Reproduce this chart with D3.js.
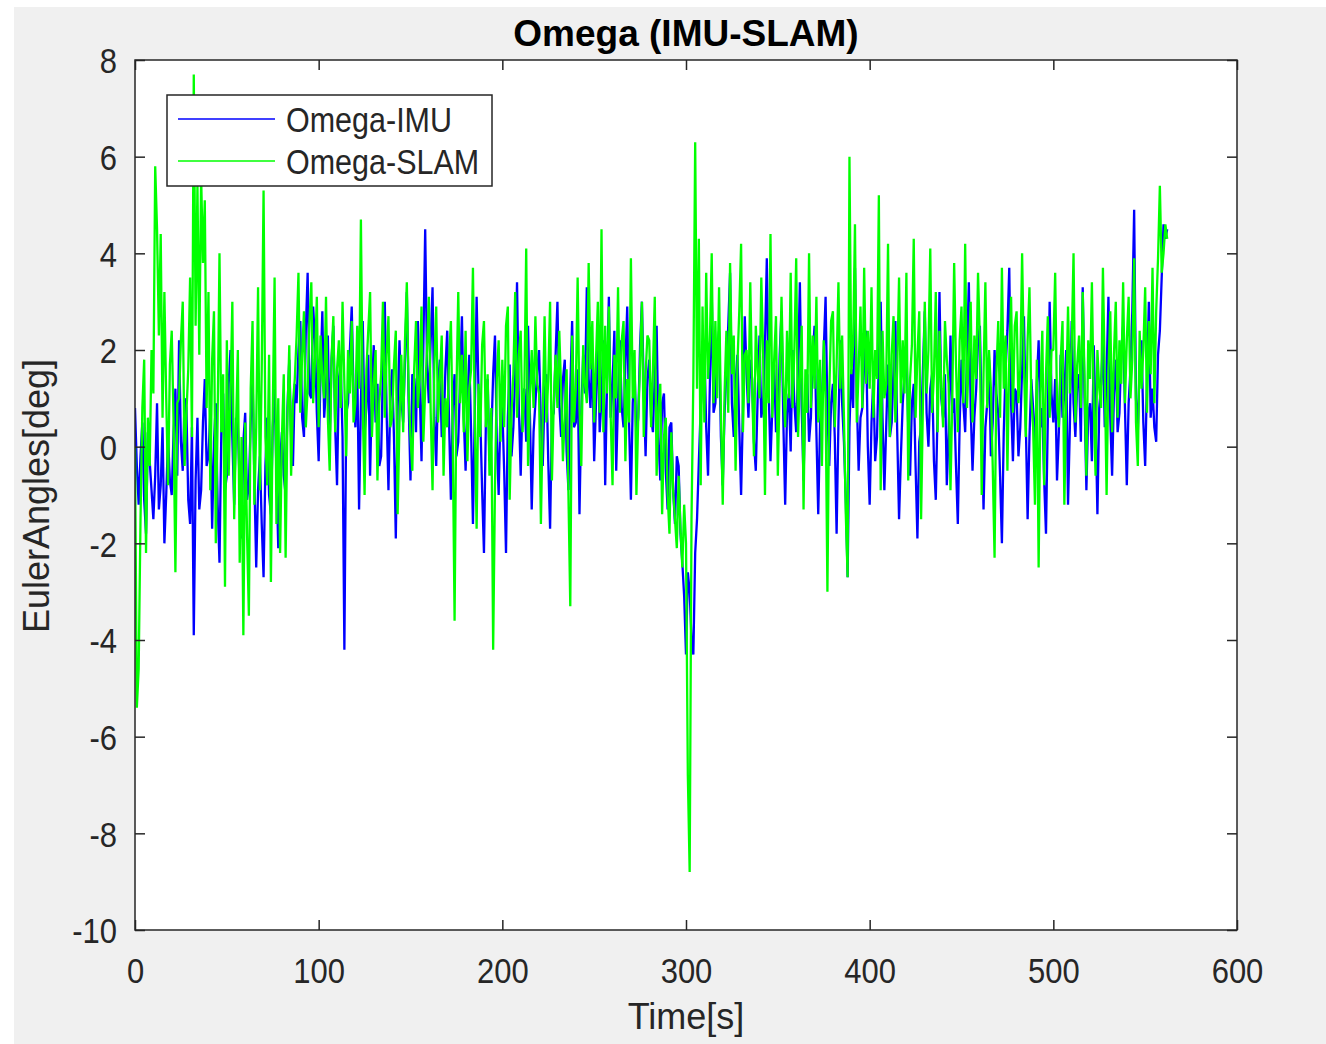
<!DOCTYPE html>
<html>
<head>
<meta charset="utf-8">
<script src="https://cdn.jsdelivr.net/npm/d3@7"></script>
<style>
  html, body { margin: 0; padding: 0; background: #fff; }
  svg { display: block; }
  text { font-family: "Liberation Sans", Arial, Helvetica, sans-serif; fill: #262626; }
</style>
</head>
<body>
<svg id="chart" width="1326" height="1044"></svg>
<script>
// ---------------- data ----------------
const timeStep = 1;           // seconds between samples
const xTicks = [0, 100, 200, 300, 400, 500, 600];
const yTicks = [-10, -8, -6, -4, -2, 0, 2, 4, 6, 8];
const seriesNames = ["Omega-IMU", "Omega-SLAM"];

const omegaIMU = [
  0.8, -0.4, -1.2, -0.2, 0.5, -1.1, -1.8, 0.3, -0.3, -0.9, -1.5, -0.6, 0.9, -1.3, -0.8, 0.4, -2.0, -1.0, 0.2, -0.7,
  -1.0, 0.3, 1.2, -0.6, 2.2, 0.1, -0.5, 1.0, 0.8, -1.1, -1.6, 0.4, -3.9, -0.7, 0.6, -1.3, -0.9, 0.5, 1.4, -0.4,
  -0.2, 0.7, -1.7, 0.1, 0.9, -1.2, -2.4, 0.3, 1.1, -0.9, -0.6, 1.3, 2.0, 0.2, -1.2, 0.6, 0.4, -0.8, -1.9, 0.1,
  0.7, -1.1, -0.8, 0.5, 1.5, -0.7, -2.5, -0.9, -0.2, -1.6, -2.7, -0.4, 0.6, -1.0, -1.4, 0.4, 1.2, -0.5, -2.1, -0.3,
  0.3, -0.6, -1.0, 0.8, 1.8, 0.2, -0.4, 1.3, 0.9, 2.0, 2.6, 0.6, 0.2, 2.4, 3.6, 1.1, 1.0, 2.9, 2.2, 0.7,
  -0.3, 1.5, 2.8, 0.6, 1.2, 2.3, 0.1, 1.8, 2.5, 0.4, -0.8, 1.4, 1.7, 0.2, -4.2, 0.7, 0.9, 2.0, 2.9, 1.1,
  0.4, 1.7, -1.3, 0.9, 2.6, 0.3, 0.8, 1.9, -0.6, 1.2, 2.1, 0.5, 1.3, -0.4, -0.2, 1.6, 3.0, 0.7, -0.9, 1.0,
  1.6, 0.2, -1.9, 0.8, 2.2, 1.0, 0.5, 1.8, 3.2, 0.9, -0.7, 1.5, 1.4, 0.3, 2.6, 1.2, -0.3, 2.1, 4.5, 1.7,
  0.9, 2.2, 3.3, 0.6, -0.4, 1.3, 1.8, 0.2, 0.3, 1.6, 2.4, 0.5, -1.1, 0.8, 1.5, -0.2, 0.1, 1.4, 2.7, 0.6,
  -0.5, 0.9, 1.9, 0.3, -1.6, 0.7, 3.1, 1.2, 0.6, -0.9, -2.2, 0.4, 1.4, -0.3, 0.2, 1.5, 2.3, 0.1, -1.0, 0.8,
  0.8, -0.5, -2.2, 0.6, 1.7, -0.2, 0.4, 1.5, 3.4, 0.8, -0.6, 1.0, 1.2, 0.1, 2.5, 0.7, -1.3, 0.3, 0.9, 1.6,
  2.0, 0.5, -0.4, 1.1, 1.5, -0.3, -1.7, 0.6, 0.7, 1.9, 3.0, 0.9, 0.2, 1.4, 1.8, -0.1, -0.9, 1.2, 2.6, 0.4,
  0.5, 1.6, -1.4, 0.7, 1.9, 1.1, 3.3, 1.4, 0.8, 2.0, -0.3, 0.9, 2.4, 0.3, 1.0, 2.2, -0.8, 1.3, 3.1, 0.6,
  1.3, 2.4, -0.5, 1.0, 2.2, 0.8, 0.4, 1.7, 2.9, 0.5, -1.1, 0.9, 1.6, 0.2, 0.6, 2.1, 3.0, 1.2, -0.2, 1.4,
  1.8, 0.6, 0.3, 1.5, 2.5, 0.2, -0.7, 0.9, 1.1, -0.5, -1.3, 0.4, 0.5, -0.9, -1.6, -0.2, -0.4, -1.8, -2.4, -3.1,
  -4.3, -2.6, -3.0, -4.0, -4.3, -2.2, -1.5, -0.3, 0.8, 1.5, 2.1, 0.4, -0.6, 1.3, 3.2, 0.7, 0.9, 2.0, 2.4, 0.2,
  -0.8, 0.7, 1.6, 2.5, 3.6, 0.9, 0.2, 1.3, 1.9, 0.4, -1.0, 0.8, 2.7, 1.5, 0.6, 1.8, 1.4, 0.1, -0.5, 1.0,
  2.3, 0.6, 0.9, 2.1, 3.9, 1.2, -0.3, 0.8, 1.7, 0.3, 0.4, 1.9, 2.8, 0.5, -1.2, 0.7, 1.1, -0.1, 2.0, 0.9,
  0.3, 1.6, 3.4, 0.8, -0.7, 1.2, 1.5, 0.1, 0.6, 1.9, 2.5, 0.3, -1.4, 0.5, 1.0, 2.0, 3.1, 0.7, -0.4, 0.9,
  1.3, 0.2, -1.8, 0.5, 2.2, 0.9, 0.1, -1.1, -2.7, 0.4, 1.6, 0.8, 3.7, 1.0, -0.5, 0.6, 0.8, 1.7, 2.4, 0.0,
  -1.2, 0.5, 1.4, -0.3, 0.2, 1.8, 3.0, 0.6, -0.9, 0.4, 1.7, 0.2, 0.5, 1.6, 2.6, 0.3, -1.5, -0.2, 0.9, 1.5,
  2.1, 0.4, -0.6, 0.9, 1.3, -0.4, -1.9, 0.1, 0.4, 1.6, 2.8, 0.7, 0.0, 1.2, 1.5, -0.3, -1.1, 0.8, 3.2, 1.0,
  0.6, 1.5, -0.8, 0.3, 2.3, 0.7, 1.0, -0.4, -1.6, 0.5, 1.8, 0.9, 0.3, 1.9, 3.4, 0.8, -0.5, 0.6, 1.2, 2.2,
  2.5, 0.6, -1.3, 0.4, 0.9, 1.8, -0.2, 0.5, 2.0, 1.1, 0.7, -0.6, -2.0, 0.3, 1.6, 2.4, 3.7, 0.9, -0.3, 1.2,
  1.1, -0.2, 0.4, 1.6, 2.7, 0.5, -1.5, 0.2, 1.4, 0.8, -0.1, 1.3, 2.2, 0.4, 0.8, -0.7, -1.8, 0.6, 3.0, 1.1,
  0.5, 1.4, -0.7, 0.3, 1.9, 0.6, 1.1, 2.0, -1.2, 0.4, 2.6, 0.9, 0.2, 1.3, 1.5, 0.1, 3.3, 1.0, -0.9, 0.7,
  0.9, -0.3, 2.1, 0.6, -1.4, 0.8, 1.3, 2.2, 0.4, 1.5, 3.1, 0.6, -0.6, 1.1, 1.8, 0.3, 0.7, 2.0, 2.5, 0.8,
  -0.8, 0.9, 1.6, 2.8, 4.9, 1.0, 0.3, 1.7, 2.2, 0.5, -0.4, 1.4, 3.0, 0.6, 1.2, 0.4, 0.1, 1.9, 2.4, 3.5,
  4.6, 4.3, 4.5
];

const omegaSLAM = [
  0.0, -5.4, -4.6, -1.5, 0.8, 1.8, -2.2, 0.6, -0.4, 2.0, 1.1, 5.8, 4.5, 2.3, 4.4, 0.6, 3.2, 1.0, -0.8, 1.7,
  2.4, 0.5, -2.6, 0.9, 1.0, 2.2, 3.0, -0.4, 0.7, 1.6, 3.5, 0.2, 7.7, 2.5, 5.4, 1.9, 5.6, 3.8, 5.1, 0.8,
  3.2, -0.9, 1.8, 2.8, -2.0, 0.6, 4.0, 0.3, 1.5, -2.9, 2.2, -0.6, 1.1, 3.0, -1.5, 0.4, 2.0, -2.4, 0.2, -3.9,
  0.5, -1.8, -3.5, 1.2, 2.6, -1.2, 0.4, 3.3, -0.9, 1.6, 5.3, 0.2, -0.8, 1.9, -2.8, 0.7, 3.5, -1.6, 1.0, -2.2,
  0.2, 1.5, -2.3, 0.6, 2.1, -0.6, 0.9, 1.4, 2.3, 3.6, 0.7, 1.9, 2.8, 0.4, 1.2, 2.6, 3.4, 0.9, 1.8, 3.1,
  0.4, 2.3, 1.4, 1.0, 3.1, 0.6, -0.5, 1.8, 2.7, 0.3, 1.6, 2.2, 0.8, 3.0, 1.3, -0.2, 2.0, 1.1, 2.6, 0.5,
  0.9, 2.5, 1.2, 4.7, 0.8, -1.0, 1.6, 2.4, 3.2, 0.2, 1.3, 2.0, -0.7, 0.9, 1.5, 3.0, 0.6, 1.9, 2.7, 0.4,
  0.6, 1.7, 2.4, -1.4, 0.5, 1.9, 0.3, 2.2, 3.4, 1.1, 0.2, -0.5, 1.6, 2.6, 0.8, 1.4, 2.9, 0.1, 1.2, 2.0,
  3.1, 0.7, -0.9, 1.7, 2.9, 0.5, 1.4, 2.3, -0.6, 1.0, 0.4, 1.8, 2.6, 0.2, -3.6, 1.1, 3.2, 0.9, 1.9, 0.3,
  2.4, -0.3, 1.2, 1.6, 3.7, 0.6, -1.7, 1.3, 0.2, 2.1, 2.6, 0.4, 1.5, -0.6, 0.8, -4.2, -0.8, 1.4, 2.2, 0.1,
  1.8, 0.4, 2.5, 2.9, -1.1, 0.7, 1.5, 3.2, 0.6, 1.9, 2.4, 0.3, 1.2, 4.1, -0.4, 1.0, 2.0, 0.8, 2.7, 1.3,
  1.1, -1.6, 0.6, 2.7, 0.5, 1.4, 3.0, -0.7, 0.9, 1.9, 0.8, 2.4, 1.2, -0.3, 0.7, 1.6, -1.0, -3.3, 2.3, 0.5,
  1.2, 3.5, 0.8, -0.4, 2.1, 1.3, 0.9, 3.8, 1.6, 2.6, 0.5, 1.8, 3.0, 0.7, 4.5, 0.3, 2.5, 1.1, 2.9, 0.6,
  -0.8, 1.9, 1.0, 3.3, 0.7, 2.2, 2.6, -0.3, 1.4, 0.5, 3.9, 1.0, 2.0, -1.0, 0.6, 1.7, 3.0, 0.2, 1.5, 2.3,
  2.2, 0.4, 1.6, 3.1, -0.6, 0.8, 1.3, -1.4, 0.2, 0.6, -1.0, -1.8, 0.3, -0.9, -1.5, -2.1, -0.6, -1.7, -2.5, -1.2,
  -2.0, -6.8, -8.8, -1.5, 1.4, 6.3, 1.2, 4.3, -0.8, 2.9, 0.5, 3.6, 1.4, 2.2, 4.0, 0.9, 2.6, 1.0, 3.3, 0.7,
  -1.2, 1.1, 2.4, 0.7, 3.8, 1.5, 2.3, -0.5, 1.7, 2.8, 4.2, 0.3, 1.9, 2.0, 0.9, 3.4, 1.2, -0.2, 2.5, 1.6,
  1.0, 3.5, 1.9, -1.0, 2.2, 0.9, 4.4, 0.6, 1.8, 2.7, -0.6, 1.3, 3.1, 1.3, 0.4, 2.4, 1.0, 3.6, 0.8, 2.0,
  3.9, 0.2, 1.4, 2.5, -1.3, 1.6, 0.7, 4.0, 0.8, 2.3, 1.2, 3.1, 0.5, 1.8, -0.4, 2.2, 1.0, -3.0, 1.1, 2.6,
  2.8, 0.4, 1.7, 3.4, 1.2, 2.3, 0.6, -1.4, -2.7, 6.0, 1.5, 2.1, 4.6, 0.5, 1.6, 2.9, 0.8, 3.7, 1.3, 2.4,
  1.2, 3.3, 0.6, 2.0, 1.4, 5.2, -0.9, 2.4, 1.0, 1.3, 4.2, 0.2, 1.9, 2.7, 0.5, 1.6, 3.5, 0.9, 2.2, 1.1,
  3.6, -0.7, 1.4, 2.1, 4.3, 0.6, 1.9, 2.8, -1.5, 0.9, 3.0, 1.1, 2.0, 4.1, 0.7, 1.5, 3.2, 0.3, 2.4, 1.2,
  0.4, 2.6, 1.8, 1.3, -0.9, 1.0, 3.8, 1.7, 0.3, 2.2, 2.9, 0.9, 4.2, 0.8, 1.9, 3.0, 0.5, 2.3, 1.4, 3.6,
  2.2, -1.0, 1.5, 3.4, 0.8, 2.0, 1.2, -0.4, -2.3, 1.5, 2.6, 0.6, 3.7, 1.2, 2.3, -0.5, 1.8, 3.1, 0.7, 2.5,
  2.8, 0.9, 1.6, 4.0, 1.7, 0.2, 2.2, 3.3, 1.0, 0.4, -1.2, 1.8, -2.5, 1.1, 2.4, -0.8, 1.5, 2.7, 0.6, 2.0,
  2.0, 3.6, 0.9, 0.4, 1.8, 2.6, -1.2, 1.0, 2.9, 1.1, 2.1, 4.0, 0.5, 1.7, 2.3, 0.8, 3.2, 1.4, -0.6, 2.2,
  1.4, 3.4, 0.9, -0.6, 2.0, 1.2, 0.8, 3.7, 1.5, -1.0, 1.6, 2.8, 0.3, 1.9, 3.0, 0.6, 2.2, 1.3, 3.4, 0.9,
  2.2, 3.1, 1.0, 1.8, 3.9, 0.5, -0.4, 2.4, 1.2, 2.0, 3.3, 0.7, 2.6, 1.5, 3.7, 0.9, 2.8, 3.9, 5.4, 3.6,
  4.0, 4.6, 4.3
];

// ---------------- layout ----------------
const W = 1326, H = 1044;
const plot = { left: 135, right: 1237, top: 60, bottom: 930 };
const axisColor = "#262626";
const textStretch = 1.15;
const fontFamily = '"Liberation Sans", Arial, Helvetica, sans-serif';
const lineWidth = 2.3;

const svg = d3.select("#chart");

svg.append("rect").attr("x", 14).attr("y", 7).attr("width", W - 14).attr("height", H - 7)
  .attr("fill", "#f0f0f0");

svg.append("rect")
  .attr("x", plot.left).attr("y", plot.top)
  .attr("width", plot.right - plot.left).attr("height", plot.bottom - plot.top)
  .attr("fill", "#ffffff");

const x = d3.scaleLinear().domain([0, 600]).range([plot.left, plot.right]);
const y = d3.scaleLinear().domain([-10, 8]).range([plot.bottom, plot.top]);

svg.append("clipPath").attr("id", "clip").append("rect")
  .attr("x", plot.left).attr("y", plot.top)
  .attr("width", plot.right - plot.left).attr("height", plot.bottom - plot.top);

const line = d3.line()
  .x((d, i) => x(i * timeStep))
  .y(d => y(d));

const g = svg.append("g").attr("clip-path", "url(#clip)");
g.append("path").datum(omegaIMU)
  .attr("d", line).attr("fill", "none")
  .attr("stroke", "#0000ff").attr("stroke-width", lineWidth).attr("stroke-linejoin", "bevel");
g.append("path").datum(omegaSLAM)
  .attr("d", line).attr("fill", "none")
  .attr("stroke", "#00ff00").attr("stroke-width", lineWidth).attr("stroke-linejoin", "bevel");

// axes
const tickLen = 10;
const fmt = d => String(d);   // plain hyphen-minus like MATLAB
function styleAxis(sel) {
  sel.select(".domain").remove();
  sel.selectAll(".tick line").attr("stroke", axisColor).attr("stroke-width", 1.5);
}

const xAxisB = svg.append("g").attr("transform", `translate(0,${plot.bottom})`)
  .call(d3.axisBottom(x).tickValues(xTicks).tickSize(-tickLen).tickFormat(fmt));
styleAxis(xAxisB);
xAxisB.selectAll(".tick text")
  .attr("y", 0).attr("dy", null)
  .attr("transform", `translate(0,53) scale(1,${textStretch})`)
  .attr("font-size", 31).attr("fill", axisColor)
  .style("font-family", fontFamily);

const xAxisT = svg.append("g").attr("transform", `translate(0,${plot.top})`)
  .call(d3.axisTop(x).tickValues(xTicks).tickSize(-tickLen).tickFormat(""));
styleAxis(xAxisT);

const yAxisL = svg.append("g").attr("transform", `translate(${plot.left},0)`)
  .call(d3.axisLeft(y).tickValues(yTicks).tickSize(-tickLen).tickFormat(fmt));
styleAxis(yAxisL);
yAxisL.selectAll(".tick text")
  .attr("x", 0).attr("dy", "0.36em")
  .attr("transform", `translate(-18,0) scale(1,${textStretch})`)
  .attr("font-size", 31).attr("fill", axisColor)
  .style("font-family", fontFamily);

const yAxisR = svg.append("g").attr("transform", `translate(${plot.right},0)`)
  .call(d3.axisRight(y).tickValues(yTicks).tickSize(-tickLen).tickFormat(""));
styleAxis(yAxisR);

// box
svg.append("rect")
  .attr("x", plot.left).attr("y", plot.top)
  .attr("width", plot.right - plot.left).attr("height", plot.bottom - plot.top)
  .attr("fill", "none").attr("stroke", axisColor).attr("stroke-width", 1.5);

// title
svg.append("text")
  .attr("x", (plot.left + plot.right) / 2).attr("y", 46)
  .attr("text-anchor", "middle").attr("font-size", 37).attr("font-weight", "bold")
  .style("fill", "#000")
  .text("Omega (IMU-SLAM)");

// axis labels
svg.append("text")
  .attr("x", (plot.left + plot.right) / 2).attr("y", 1029)
  .attr("text-anchor", "middle").attr("font-size", 36)
  .text("Time[s]");

svg.append("text")
  .attr("transform", `translate(49,${(plot.top + plot.bottom) / 2 + 1}) rotate(-90)`)
  .attr("text-anchor", "middle").attr("font-size", 36)
  .text("EulerAngles[deg]");

// legend
const legend = svg.append("g");
legend.append("rect")
  .attr("x", 167).attr("y", 95).attr("width", 325).attr("height", 91)
  .attr("fill", "#fff").attr("stroke", axisColor).attr("stroke-width", 1.5);
const legendColors = ["#0000ff", "#00ff00"];
seriesNames.forEach((name, i) => {
  const cy = 119 + i * 42;
  legend.append("line").attr("x1", 178).attr("x2", 275).attr("y1", cy).attr("y2", cy)
    .attr("stroke", legendColors[i]).attr("stroke-width", 1.5);
  legend.append("text")
    .attr("transform", `translate(286,${cy}) scale(1,${textStretch})`)
    .attr("dy", "0.36em").attr("font-size", 30.5)
    .text(name);
});
</script>
</body>
</html>
